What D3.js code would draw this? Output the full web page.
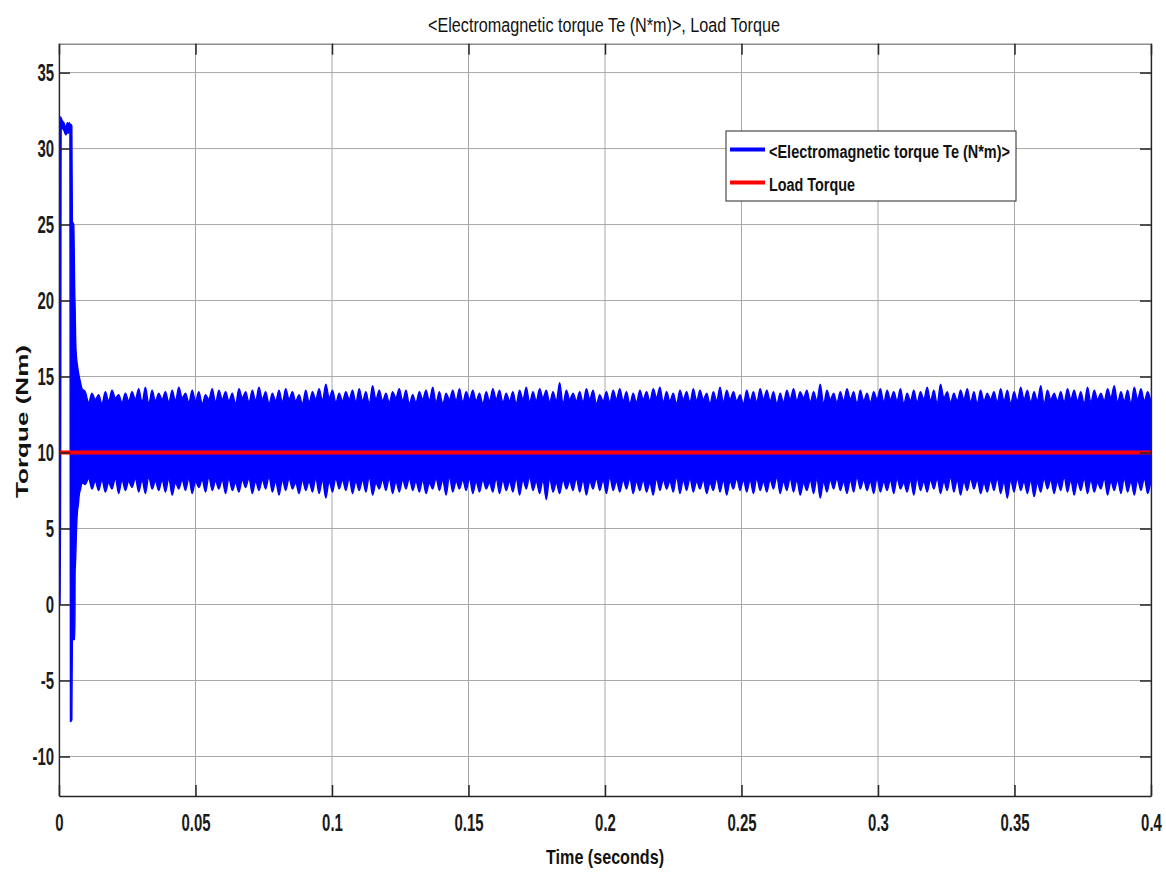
<!DOCTYPE html>
<html>
<head>
<meta charset="utf-8">
<script src="https://cdn.jsdelivr.net/npm/d3@7"></script>
<style>
  body { margin: 0; background: #ffffff; }
  text { font-family: 'Liberation Sans', Arial, sans-serif; fill: #111; }
</style>
</head>
<body>
<div id="torque_chart"></div>
<script>
// ! Data
var chart_title = "<Electromagnetic torque Te (N*m)>, Load Torque";
var series_names = ["<Electromagnetic torque Te (N*m)>", "Load Torque"];
var x_label = "Time (seconds)";
var y_label = "Torque (Nm)";
var x_ticks = [0, 0.05, 0.1, 0.15, 0.2, 0.25, 0.3, 0.35, 0.4];
var y_ticks = [-10, -5, 0, 5, 10, 15, 20, 25, 30, 35];

// start-up transient of Te: time (s), upper and lower edge of the trace (Nm)
var start_time  = [0, 0.0005, 0.0008, 0.0013, 0.0018, 0.0022, 0.0026, 0.0030, 0.0034, 0.0038, 0.0040, 0.0042, 0.0047, 0.0049, 0.0054, 0.0058, 0.0059, 0.0061, 0.0064, 0.0067, 0.0071, 0.0074, 0.0079];
var start_upper = [0, 32.1, 32.0, 31.8, 31.7, 31.5, 31.4, 31.7, 31.6, 31.7, 31.6, 31.6, 31.5, 25.2, 25.0, 20.2, 19.6, 17.4, 16.3, 15.8, 15.3, 15.0, 14.6];
var start_lower = [0, 0, 31.4, 31.3, 31.2, 31.0, 30.9, 31.1, 31.0, 31.2, 31.0, -7.7, -7.6, -2.3, -2.3, -2.3, 2.1, 3.0, 4.8, 6.0, 6.6, 7.2, 7.6];

// steady state ripple of Te, one value per ripple cycle between 0.0084 s and 0.4 s
var ripple_start = 0.0084;
var ripple_end = 0.4;
var ripple_peak_hi = [
  14.0, 13.9, 13.8, 14.0, 14.1, 13.8, 13.9, 14.0, 14.2, 14.3, 14.1, 13.9, 14.0, 14.1, 14.3, 13.9, 14.1, 14.0, 13.8, 14.2,
  14.1, 14.0, 13.9, 14.2, 14.0, 14.1, 14.3, 14.0, 13.9, 14.1, 14.2, 14.0, 13.8, 14.1, 14.0, 14.2, 14.5, 14.1, 13.9, 14.0,
  14.1, 14.2, 14.0, 14.4, 14.1, 13.9, 14.0, 14.2, 14.1, 13.8, 14.0, 14.1, 14.3, 14.0, 13.9, 14.1, 14.2, 14.0, 14.1, 13.9,
  14.0, 14.2, 14.1, 13.9, 14.0, 14.1, 14.3, 14.0, 14.2, 14.1, 14.0, 14.6, 14.1, 13.9, 14.0, 14.2, 14.1, 13.8, 14.0, 14.1,
  14.2, 14.0, 13.9, 14.1, 14.0, 14.2, 14.3, 14.0, 13.9, 14.1, 14.0, 14.2, 14.1, 13.9, 14.0, 14.3, 14.1, 14.0, 13.8, 14.1,
  14.0, 14.2, 14.1, 14.0, 13.9, 14.1, 14.2, 14.0, 14.1, 14.0, 14.5, 14.1, 13.9, 14.0, 14.2, 14.0, 14.1, 13.9, 14.0, 14.2,
  14.1, 14.0, 14.2, 13.9, 14.1, 14.0, 14.3, 14.1, 14.5, 14.0, 13.9, 14.1, 14.2, 14.0, 14.1, 13.9, 14.0, 14.2, 14.1, 14.0,
  14.3, 14.1, 14.0, 14.4, 14.1, 13.9, 14.0, 14.2, 14.1, 14.0, 14.3, 14.1, 13.9, 14.2, 14.4, 14.0, 14.1, 14.3, 14.2, 14.0
];
var ripple_notch_hi = [
  14.2, 13.3, 13.5, 13.2, 13.4, 13.6, 13.3, 13.4, 13.5, 13.3, 13.2, 13.4, 13.5, 13.3, 13.4, 13.6, 13.3, 13.4, 13.2, 13.5,
  13.3, 13.5, 13.4, 13.2, 13.6, 13.3, 13.4, 13.5, 13.2, 13.4, 13.3, 13.5, 13.4, 13.2, 13.3, 13.5, 13.4, 13.6, 13.3, 13.4,
  13.5, 13.3, 13.4, 13.2, 13.5, 13.4, 13.3, 13.6, 13.4, 13.2, 13.3, 13.5, 13.4, 13.3, 13.2, 13.5, 13.4, 13.3, 13.5, 13.4,
  13.2, 13.4, 13.5, 13.3, 13.4, 13.2, 13.5, 13.3, 13.4, 13.6, 13.3, 13.4, 13.2, 13.5, 13.4, 13.3, 13.5, 13.2, 13.4, 13.3,
  13.5, 13.4, 13.2, 13.3, 13.5, 13.4, 13.6, 13.3, 13.4, 13.2, 13.5, 13.3, 13.4, 13.5, 13.2, 13.4, 13.3, 13.5, 13.4, 13.2,
  13.4, 13.3, 13.5, 13.4, 13.2, 13.3, 13.5, 13.4, 13.6, 13.3, 13.4, 13.2, 13.5, 13.3, 13.4, 13.5, 13.2, 13.4, 13.3, 13.5,
  13.3, 13.5, 13.4, 13.2, 13.4, 13.3, 13.5, 13.4, 13.2, 13.6, 13.3, 13.4, 13.5, 13.3, 13.2, 13.4, 13.5, 13.3, 13.4, 13.2,
  13.4, 13.5, 13.3, 13.4, 13.2, 13.5, 13.4, 13.3, 13.5, 13.4, 13.2, 13.3, 13.5, 13.4, 13.6, 13.3, 13.4, 13.2, 13.5, 13.4,
  13.3
];
var ripple_peak_lo = [
  7.9, 7.6, 7.5, 7.4, 7.6, 7.3, 7.5, 7.7, 7.4, 7.3, 7.6, 7.5, 7.4, 7.2, 7.6, 7.5, 7.3, 7.7, 7.4, 7.5,
  7.6, 7.3, 7.5, 7.4, 7.7, 7.3, 7.5, 7.6, 7.4, 7.2, 7.5, 7.6, 7.3, 7.5, 7.4, 7.3, 7.0, 7.4, 7.6, 7.5,
  7.3, 7.5, 7.4, 7.2, 7.6, 7.5, 7.3, 7.4, 7.6, 7.5, 7.4, 7.3, 7.6, 7.5, 7.2, 7.4, 7.6, 7.5, 7.3, 7.4,
  7.6, 7.4, 7.3, 7.5, 7.4, 7.2, 7.6, 7.5, 7.3, 6.9, 7.4, 7.3, 7.6, 7.5, 7.4, 7.2, 7.6, 7.5, 7.3, 7.5,
  7.4, 7.6, 7.3, 7.5, 7.4, 7.2, 7.5, 7.6, 7.4, 7.3, 7.5, 7.4, 7.6, 7.3, 7.5, 7.4, 7.2, 7.6, 7.5, 7.4,
  7.3, 7.5, 7.4, 7.6, 7.3, 7.5, 7.4, 7.2, 7.5, 7.3, 7.0, 7.4, 7.6, 7.5, 7.3, 7.4, 7.6, 7.5, 7.3, 7.4,
  7.5, 7.3, 7.6, 7.4, 7.2, 7.5, 7.4, 7.6, 7.3, 7.5, 7.4, 7.2, 7.5, 7.6, 7.3, 7.4, 7.5, 7.3, 7.0, 7.4,
  7.5, 7.3, 7.1, 7.4, 7.6, 7.3, 7.5, 7.4, 7.2, 7.5, 7.3, 7.4, 7.6, 7.2, 7.5, 7.3, 7.4, 7.2, 7.5, 7.3
];
var ripple_notch_lo = [
  8.0, 8.3, 8.1, 8.2, 8.0, 8.3, 8.2, 8.1, 8.3, 8.2, 8.4, 8.1, 8.2, 8.3, 8.0, 8.2, 8.3, 8.1, 8.2, 8.4,
  8.1, 8.2, 8.3, 8.0, 8.2, 8.3, 8.1, 8.2, 8.4, 8.1, 8.2, 8.3, 8.0, 8.2, 8.1, 8.3, 8.2, 8.1, 8.3, 8.2,
  8.3, 8.1, 8.2, 8.4, 8.0, 8.2, 8.3, 8.1, 8.2, 8.3, 8.1, 8.2, 8.0, 8.3, 8.2, 8.4, 8.1, 8.2, 8.3, 8.1,
  8.2, 8.0, 8.3, 8.2, 8.1, 8.3, 8.2, 8.4, 8.1, 8.2, 8.3, 8.0, 8.2, 8.1, 8.3, 8.2, 8.1, 8.3, 8.2, 8.4,
  8.1, 8.2, 8.3, 8.1, 8.2, 8.0, 8.3, 8.2, 8.1, 8.4, 8.2, 8.3, 8.1, 8.2, 8.0, 8.3, 8.2, 8.1, 8.3, 8.2,
  8.2, 8.3, 8.1, 8.2, 8.4, 8.1, 8.3, 8.2, 8.0, 8.2, 8.3, 8.1, 8.2, 8.3, 8.1, 8.2, 8.4, 8.2, 8.1, 8.3,
  8.1, 8.2, 8.3, 8.0, 8.2, 8.3, 8.1, 8.2, 8.3, 8.1, 8.4, 8.2, 8.1, 8.3, 8.2, 8.0, 8.2, 8.3, 8.1, 8.2,
  8.3, 8.1, 8.2, 8.0, 8.3, 8.2, 8.1, 8.4, 8.2, 8.1, 8.3, 8.2, 8.0, 8.3, 8.1, 8.2, 8.3, 8.1, 8.2, 8.3,
  8.2
];

// load torque reference
var load_time = [0, 0.4];
var load_torque = [10, 10];

// ! Parameters
var width = 1166;
var height = 873;
var plot_left = 59,
    plot_right = 1151,
    plot_top = 43.7,
    plot_bottom = 796;

var te_colour = "#0000ff";
var load_colour = "#ff0000";

// ! Build the Te envelope (upper/lower edge of the dense trace)
var te_band = start_time.map(function(t, i) {
  return { t: t, hi: start_upper[i], lo: start_lower[i] };
});

var ripple_step = (ripple_end - ripple_start) / ripple_peak_hi.length;
ripple_peak_hi.forEach(function(v, i) {
  te_band.push({ t: ripple_start + i * ripple_step, hi: ripple_notch_hi[i], lo: ripple_notch_lo[i] });
  te_band.push({ t: ripple_start + (i + 0.5) * ripple_step, hi: v, lo: ripple_peak_lo[i] });
});
var last_i = ripple_notch_hi.length - 1;
te_band.push({ t: ripple_end, hi: ripple_notch_hi[last_i], lo: ripple_notch_lo[last_i] });

var load_data = load_time.map(function(t, i) { return { t: t, v: load_torque[i] }; });

// ! Scales
var x_scale = d3.scaleLinear()
  .domain([0, 0.4])
  .range([plot_left, plot_right]);

var y_scale = d3.scaleLinear()
  .domain([-12.6, 36.9])
  .range([plot_bottom, plot_top]);

// append the svg object to the body of the page
var svg = d3.select("#torque_chart")
  .append("svg")
  .attr("width", width)
  .attr("height", height)
  .style("background", "#ffffff");

svg.append("defs")
  .append("clipPath")
  .attr("id", "plot_clip")
  .append("rect")
  .attr("x", plot_left)
  .attr("y", plot_top)
  .attr("width", plot_right - plot_left)
  .attr("height", plot_bottom - plot_top);

// ! Grid
var grid = svg.append("g").attr("class", "grid");

grid.selectAll(".vgrid")
  .data(x_ticks)
  .enter()
  .append("line")
  .attr("x1", function(d) { return x_scale(d); })
  .attr("x2", function(d) { return x_scale(d); })
  .attr("y1", plot_top)
  .attr("y2", plot_bottom)
  .attr("stroke", "#a8a8a8")
  .attr("stroke-width", 1);

grid.selectAll(".hgrid")
  .data(y_ticks)
  .enter()
  .append("line")
  .attr("x1", plot_left)
  .attr("x2", plot_right)
  .attr("y1", function(d) { return y_scale(d); })
  .attr("y2", function(d) { return y_scale(d); })
  .attr("stroke", "#a8a8a8")
  .attr("stroke-width", 1);

// ! Electromagnetic torque (dense trace drawn as its envelope)
var te_area = d3.area()
  .x(function(d) { return x_scale(d.t); })
  .y0(function(d) { return y_scale(d.lo); })
  .y1(function(d) { return y_scale(d.hi); })
  .curve(d3.curveMonotoneX);

svg.append("path")
  .datum(te_band)
  .attr("clip-path", "url(#plot_clip)")
  .attr("d", te_area)
  .attr("fill", te_colour)
  .attr("stroke", te_colour)
  .attr("stroke-width", 1.4);

// ! Load torque
var load_line = d3.line()
  .x(function(d) { return x_scale(d.t); })
  .y(function(d) { return y_scale(d.v); });

svg.append("path")
  .datum(load_data)
  .attr("clip-path", "url(#plot_clip)")
  .attr("d", load_line)
  .attr("fill", "none")
  .attr("stroke", load_colour)
  .attr("stroke-width", 4);

// ! Axes
var x_axis = svg.append("g")
  .attr("transform", "translate(0," + plot_bottom + ")")
  .call(d3.axisBottom(x_scale).tickValues(x_ticks).tickSize(-11).tickSizeOuter(0)
    .tickFormat(function(d) { return String(d); }));

x_axis.selectAll("text")
  .attr("y", null)
  .attr("dy", null)
  .attr("transform", "translate(0,35) scale(0.65,1)")
  .style("font-size", "23px")
  .style("font-weight", "bold")
  .style("fill", "#1a1a1a");

var y_axis = svg.append("g")
  .attr("transform", "translate(" + plot_left + ",0)")
  .call(d3.axisLeft(y_scale).tickValues(y_ticks).tickSize(-11).tickSizeOuter(0)
    .tickFormat(function(d) { return String(d); }));

y_axis.selectAll("text")
  .attr("x", null)
  .attr("dy", null)
  .attr("text-anchor", "end")
  .attr("transform", "translate(-5,8) scale(0.65,1)")
  .style("font-size", "23px")
  .style("font-weight", "bold")
  .style("fill", "#1a1a1a");

var y_axis_right = svg.append("g")
  .attr("transform", "translate(" + plot_right + ",0)")
  .call(d3.axisRight(y_scale).tickValues(y_ticks).tickSize(-11).tickSizeOuter(0).tickFormat(""));

var x_axis_top = svg.append("g")
  .attr("transform", "translate(0," + plot_top + ")")
  .call(d3.axisTop(x_scale).tickValues(x_ticks).tickSize(-11).tickSizeOuter(0).tickFormat(""));

[x_axis, y_axis, y_axis_right].forEach(function(a) {
  a.selectAll("line").attr("stroke", "#262626").attr("stroke-width", 1.5);
  a.select(".domain").attr("stroke", "#262626").attr("stroke-width", 1.3);
});
x_axis_top.selectAll("line").attr("stroke", "#262626").attr("stroke-width", 1.5);
x_axis_top.select(".domain").attr("stroke", "#8c8c8c").attr("stroke-width", 1.5);

// ! Titles
svg.append("text")
  .attr("x", 604)
  .attr("y", 32)
  .attr("text-anchor", "middle")
  .attr("textLength", 352)
  .attr("lengthAdjust", "spacingAndGlyphs")
  .style("font-size", "20px")
  .text(chart_title);

svg.append("text")
  .attr("x", 605)
  .attr("y", 864)
  .attr("text-anchor", "middle")
  .attr("textLength", 118)
  .attr("lengthAdjust", "spacingAndGlyphs")
  .style("font-size", "21px")
  .style("font-weight", "bold")
  .text(x_label);

svg.append("text")
  .attr("transform", "translate(27.5,421.5) rotate(-90)")
  .attr("text-anchor", "middle")
  .attr("textLength", 153)
  .attr("lengthAdjust", "spacingAndGlyphs")
  .style("font-size", "17px")
  .style("font-weight", "bold")
  .text(y_label);

// ! Legend
var legend = svg.append("g").attr("class", "legend");

legend.append("rect")
  .attr("x", 726)
  .attr("y", 131)
  .attr("width", 290)
  .attr("height", 70)
  .attr("fill", "#ffffff")
  .attr("stroke", "#262626")
  .attr("stroke-width", 1);

var legend_colours = [te_colour, load_colour];
var legend_widths = [241, 86];

legend.selectAll(".legend_line")
  .data(series_names)
  .enter()
  .append("line")
  .attr("x1", 730)
  .attr("x2", 765)
  .attr("y1", function(d, i) { return 149.5 + i * 33; })
  .attr("y2", function(d, i) { return 149.5 + i * 33; })
  .attr("stroke", function(d, i) { return legend_colours[i]; })
  .attr("stroke-width", 4);

legend.selectAll(".legend_text")
  .data(series_names)
  .enter()
  .append("text")
  .attr("x", 769)
  .attr("y", function(d, i) { return 157.5 + i * 33; })
  .attr("textLength", function(d, i) { return legend_widths[i]; })
  .attr("lengthAdjust", "spacingAndGlyphs")
  .style("font-size", "18px")
  .style("font-weight", "bold")
  .text(function(d) { return d; });
</script>
</body>
</html>
